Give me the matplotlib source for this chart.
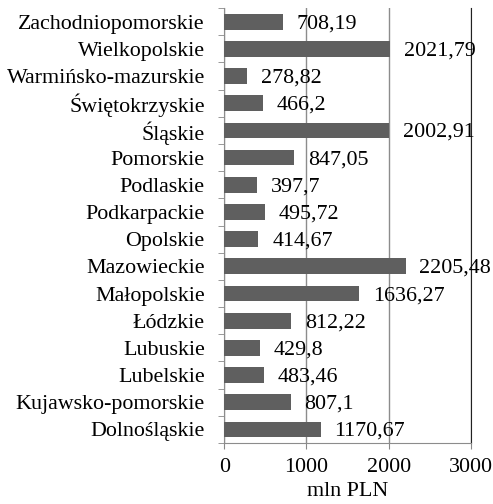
import matplotlib.pyplot as plt

regions = ["Dolnośląskie", "Kujawsko-pomorskie", "Lubelskie", "Lubuskie", "Łódzkie",
           "Małopolskie", "Mazowieckie", "Opolskie", "Podkarpackie", "Podlaskie",
           "Pomorskie", "Śląskie", "Świętokrzyskie", "Warmińsko-mazurskie",
           "Wielkopolskie", "Zachodniopomorskie"]
values = [1170.67, 807.1, 483.46, 429.8, 812.22, 1636.27, 2205.48, 414.67, 495.72,
          397.7, 847.05, 2002.91, 466.2, 278.82, 2021.79, 708.19]
xTicks = [0, 1000, 2000, 3000]

plt.rcParams['font.family'] = ['Liberation Serif', 'DejaVu Serif']
plt.rcParams['font.size'] = 15.8

fig, ax = plt.subplots(figsize=(4.93, 5.04), dpi=100)
fig.subplots_adjust(left=0.455, right=0.955, top=0.984, bottom=0.121)

pos = list(range(len(regions)))
ax.barh(pos, values, height=0.58, color="#5f5f5f", zorder=3)

for p, v in zip(pos, values):
    label = f"{v:g}".replace(".", ",")
    ax.annotate(label, (v, p), xytext=(10, -1.5), textcoords="offset points",
                va="center", ha="left", zorder=4)

ax.set_xlim(0, 3000)
ax.set_ylim(-0.5, len(regions) - 0.5)
ax.set_xticks(xTicks)
ax.set_xticklabels([str(t) for t in xTicks])
ax.set_yticks(pos)
ax.set_yticklabels(regions)
ax.set_yticks([p - 0.5 for p in pos] + [len(regions) - 0.5], minor=True)
ax.tick_params(axis="y", which="major", length=0, pad=14)
ax.tick_params(axis="y", which="minor", length=4.5, color="#888888")
ax.tick_params(axis="x", length=4.5, color="#888888", pad=6)

ax.grid(axis="x", color="#8c8c8c", linewidth=1.0, zorder=0)
ax.spines["top"].set_visible(False)
ax.spines["bottom"].set_color("#8c8c8c")
ax.spines["left"].set_color("#8c8c8c")
ax.spines["right"].set_color("#222222")

ax.set_xlabel("mln PLN", labelpad=4)

plt.savefig("out.png", dpi=100)
